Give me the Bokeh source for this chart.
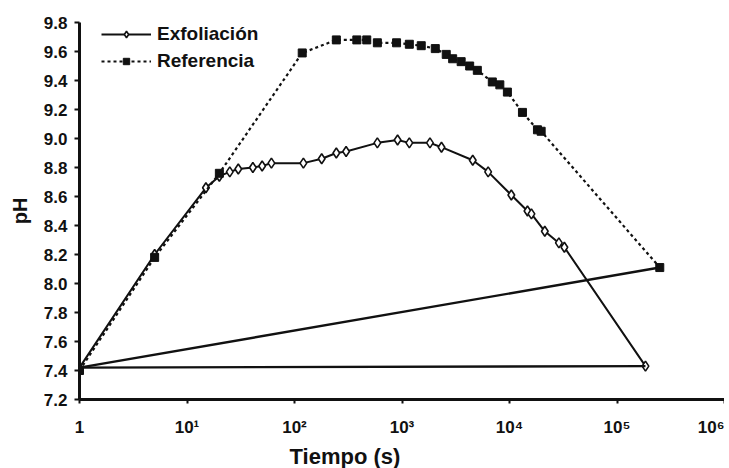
from bokeh.plotting import figure
from bokeh.models import Range1d, FixedTicker, Legend, LegendItem, Title
from bokeh.embed import file_html
from bokeh.resources import INLINE

# ---- data ----
exf_t = [1, 5, 15, 20, 25, 30, 41, 50, 61, 121, 179, 245, 302, 590, 910, 1170,
         1820, 2330, 4550, 6330, 10400, 14700, 16000, 21300, 28800, 32400, 184000]
exf_ph = [7.42, 8.20, 8.66, 8.74, 8.77, 8.79, 8.80, 8.81, 8.83, 8.83, 8.86, 8.90, 8.91,
          8.97, 8.99, 8.97, 8.97, 8.94, 8.85, 8.77, 8.61, 8.50, 8.48, 8.36, 8.28, 8.25, 7.43]

ref_t = [1, 5, 20, 118, 245, 380, 470, 590, 890, 1170, 1510, 2040, 2580, 2960, 3550,
         4260, 5020, 6920, 8130, 9560, 13200, 18200, 19700, 250000]
ref_ph = [7.40, 8.18, 8.76, 9.59, 9.68, 9.68, 9.68, 9.66, 9.66, 9.65, 9.64, 9.62, 9.58,
          9.55, 9.53, 9.50, 9.47, 9.39, 9.37, 9.32, 9.18, 9.06, 9.05, 8.11]

x_ticks = [1, 10, 100, 1000, 10000, 100000, 1000000]
x_tick_labels = ["1", "10\u00b9", "10\u00b2", "10\u00b3", "10\u2074", "10\u2075", "10\u2076"]
y_ticks = [7.2, 7.4, 7.6, 7.8, 8.0, 8.2, 8.4, 8.6, 8.8, 9.0, 9.2, 9.4, 9.6, 9.8]

FONT = "Liberation Sans"
INK = "#111111"

p = figure(x_axis_type="log", output_backend="svg", toolbar_location=None,
           frame_width=645, frame_height=377,
           x_range=Range1d(1, 1e6), y_range=Range1d(7.2, 9.8))
p.min_border_left = 79
p.min_border_right = 0
p.min_border_top = 22
p.min_border_bottom = 40
p.outline_line_color = None
p.background_fill_color = "white"
p.xgrid.visible = False
p.ygrid.visible = False

# series lines
l_exf = p.line(exf_t, exf_ph, line_color=INK, line_width=2)
s_exf = p.scatter(exf_t, exf_ph, marker="diamond", size=10, fill_color="white",
                  line_color=INK, line_width=1.6)
l_ref = p.line(ref_t, ref_ph, line_color=INK, line_width=2.2, line_dash="3 3")
s_ref = p.scatter(ref_t, ref_ph, marker="square", size=8, fill_color=INK,
                  line_color=INK)

# closing segments back to the starting point
p.line([exf_t[-1], exf_t[0]], [exf_ph[-1], exf_ph[0]], line_color=INK, line_width=2.4)
p.line([ref_t[-1], ref_t[0]], [ref_ph[-1], exf_ph[0]], line_color=INK, line_width=2.4)

# axes
for ax in (p.xaxis[0], p.yaxis[0]):
    ax.axis_line_width = 3
    ax.axis_line_color = INK
    ax.major_tick_line_color = INK
    ax.major_tick_line_width = 2
    ax.major_tick_in = 0
    ax.minor_tick_line_color = None
    ax.major_label_text_font = FONT
    ax.major_label_text_font_style = "bold"
    ax.major_label_text_font_size = "17px"
    ax.major_label_text_color = INK

p.xaxis.ticker = FixedTicker(ticks=x_ticks)
p.xaxis.major_label_overrides = {t: lab for t, lab in zip(x_ticks, x_tick_labels)}
p.xaxis.major_tick_out = 4
p.xaxis.major_label_standoff = 14

p.yaxis.ticker = FixedTicker(ticks=y_ticks)
p.yaxis.major_label_overrides = {t: f"{t:.1f}" for t in y_ticks}
p.yaxis.major_tick_out = 5
p.yaxis.major_label_standoff = 7
p.yaxis.axis_label = "pH"
p.yaxis.axis_label_text_font = FONT
p.yaxis.axis_label_text_font_style = "bold"
p.yaxis.axis_label_text_font_size = "20px"
p.yaxis.axis_label_text_color = INK
p.yaxis.axis_label_standoff = 10

xtitle = Title(text="Tiempo (s)", align="left", offset=210, standoff=4,
               text_font=FONT, text_font_style="bold", text_font_size="22px",
               text_color=INK)
p.add_layout(xtitle, "below")

legend = Legend(items=[LegendItem(label="Exfoliación", renderers=[l_exf, s_exf]),
                       LegendItem(label="Referencia", renderers=[l_ref, s_ref])],
                location=(22, 327))
legend.background_fill_alpha = 0
legend.border_line_color = None
legend.padding = 0
legend.margin = 0
legend.spacing = 5
legend.glyph_width = 50
legend.glyph_height = 16
legend.label_height = 16
legend.label_standoff = 6
legend.label_text_font = FONT
legend.label_text_font_style = "bold"
legend.label_text_font_size = "19px"
legend.label_text_color = INK
p.add_layout(legend)

open("out.html", "w").write(file_html(p, INLINE))
